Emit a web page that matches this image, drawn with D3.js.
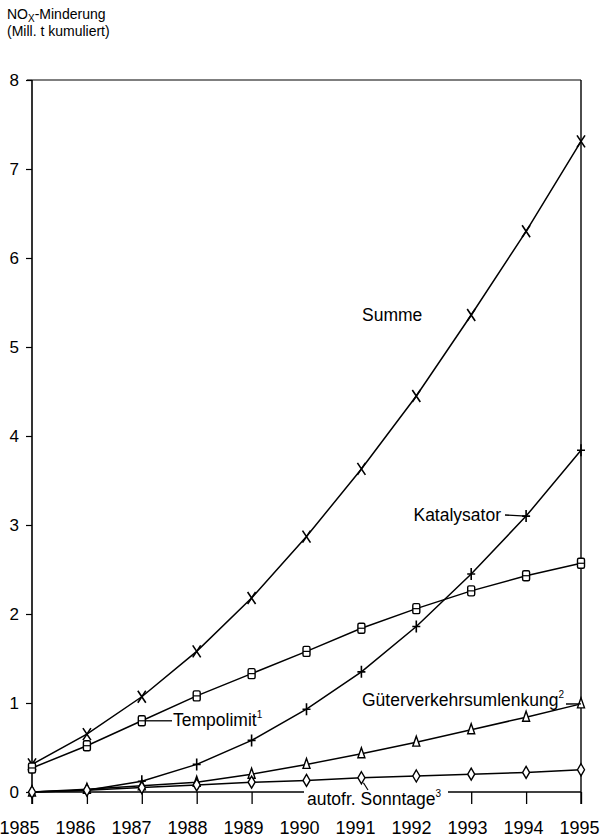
<!DOCTYPE html>
<html><head><meta charset="utf-8">
<script src="https://cdn.jsdelivr.net/npm/d3@7"></script>
<style>
body{margin:0;background:#fff;}
svg{display:block;font-family:"Liberation Sans",Arial,Helvetica,sans-serif;}
</style></head><body>
<svg id="c" width="600" height="840"></svg>
<script>
const years = [1985,1986,1987,1988,1989,1990,1991,1992,1993,1994,1995];
const yTicks = [0,1,2,3,4,5,6,7,8];
const summe = [0.31,0.65,1.07,1.58,2.18,2.87,3.63,4.45,5.36,6.30,7.31];
const katalysator = [0.00,0.02,0.12,0.31,0.58,0.93,1.35,1.86,2.45,3.10,3.84];
const tempolimit = [0.27,0.52,0.80,1.08,1.33,1.58,1.84,2.06,2.26,2.43,2.57];
const gueter = [0.00,0.03,0.07,0.11,0.20,0.31,0.43,0.56,0.70,0.84,0.99];
const sonntage = [0.00,0.02,0.05,0.08,0.11,0.13,0.16,0.18,0.20,0.22,0.25];

const svg = d3.select("#c");
const x = d3.scaleLinear().domain([1985,1995]).range([32,581]);
const xl = d3.scaleLinear().domain([1985,1995]).range([19,579]); // year label centres
const y = d3.scaleLinear().domain([0,8]).range([792,80]);

// frame
const g = svg.append("g").attr("stroke","#000").attr("fill","none");
g.append("line").attr("x1",27).attr("x2",x(1995)).attr("y1",y(8)).attr("y2",y(8)).attr("stroke-width",1.2);
g.append("line").attr("x1",x(1985)).attr("x2",x(1985)).attr("y1",y(8)).attr("y2",y(0)+12).attr("stroke-width",1.6);
g.append("line").attr("x1",x(1995)).attr("x2",x(1995)).attr("y1",y(8)).attr("y2",y(0)+12).attr("stroke-width",1.4);

// y axis
const yAxis = d3.axisLeft(y).tickValues(yTicks).tickSize(6).tickPadding(7).tickFormat(d3.format("d"));
const ya = svg.append("g").attr("transform",`translate(${x(1985)},0)`).call(yAxis);
ya.select(".domain").remove();
ya.selectAll("line").attr("stroke","#000").attr("stroke-width",1.2);
ya.selectAll("text").attr("font-size",17).attr("font-family","inherit").attr("fill","#000");

// x axis at 0
const xAxis = d3.axisBottom(x).tickValues(years).tickSize(12).tickPadding(17).tickFormat(d3.format("d"));
const xa = svg.append("g").attr("transform",`translate(0,${y(0)})`).call(xAxis);
xa.select(".domain").attr("stroke","#000").attr("stroke-width",1.3).attr("d",`M${x(1985)},0H${x(1995)}`);
xa.selectAll("line").attr("stroke","#000").attr("stroke-width",1.3);
xa.selectAll("text").attr("font-size",18).attr("font-family","inherit").attr("fill","#000")
  .attr("x",d=>xl(d)-x(d));

// title
const t = svg.append("text").attr("x",7).attr("y",19).attr("font-size",14).attr("fill","#000");
t.append("tspan").text("NO");
t.append("tspan").attr("font-size",10).attr("dy",2.5).text("X");
t.append("tspan").attr("dy",-2.5).text("-Minderung");
svg.append("text").attr("x",7).attr("y",36).attr("font-size",14).attr("fill","#000").text("(Mill. t kumuliert)");

const line = d3.line().x((d,i)=>x(years[i])).y(d=>y(d));
const series = [summe,katalysator,tempolimit,gueter,sonntage];
series.forEach(s=>{
  svg.append("path").datum(s).attr("d",line).attr("fill","none").attr("stroke","#000").attr("stroke-width",1.5);
});

// markers
function markers(data, draw){
  const mg = svg.append("g");
  data.forEach((v,i)=>draw(mg, x(years[i]), y(v)));
}
markers(summe,(m,cx,cy)=>{
  m.append("path").attr("d",`M${cx-4},${cy-6}L${cx+4},${cy+6}M${cx+4},${cy-6}L${cx-4},${cy+6}`).attr("stroke","#000").attr("stroke-width",1.6);
});
markers(katalysator,(m,cx,cy)=>{
  m.append("path").attr("d",`M${cx-4},${cy}H${cx+4}M${cx},${cy-6}V${cy+6}`).attr("stroke","#000").attr("stroke-width",1.6);
});
markers(tempolimit,(m,cx,cy)=>{
  m.append("rect").attr("x",cx-3.5).attr("y",cy-5).attr("width",7).attr("height",10).attr("rx",1.5).attr("fill","#fff").attr("stroke","#000").attr("stroke-width",1.4);
  m.append("line").attr("x1",cx-3.5).attr("x2",cx+3.5).attr("y1",cy).attr("y2",cy).attr("stroke","#000").attr("stroke-width",1.2);
});
markers(gueter,(m,cx,cy)=>{
  m.append("path").attr("d",`M${cx},${cy-6}L${cx+3.5},${cy+4}H${cx-3.5}Z`).attr("fill","#fff").attr("stroke","#000").attr("stroke-width",1.4);
});
markers(sonntage,(m,cx,cy)=>{
  m.append("path").attr("d",`M${cx},${cy-6}L${cx+3.5},${cy}L${cx},${cy+6}L${cx-3.5},${cy}Z`).attr("fill","#fff").attr("stroke","#000").attr("stroke-width",1.4);
});

// labels
svg.append("rect").attr("x",304).attr("y",789).attr("width",144).attr("height",19).attr("fill","#fff");
const lab = svg.append("g").attr("fill","#000").attr("font-size",17.5);
lab.append("text").attr("x",362).attr("y",321).text("Summe");
lab.append("text").attr("x",501).attr("y",521).attr("text-anchor","end").text("Katalysator");
svg.append("line").attr("x1",505).attr("x2",x(1994)).attr("y1",515).attr("y2",y(katalysator[9])).attr("stroke","#000").attr("stroke-width",1.3);

const tl = lab.append("text").attr("x",173).attr("y",726);
tl.append("tspan").text("Tempolimit");
tl.append("tspan").attr("font-size",10).attr("dy",-8).text("1");
svg.append("line").attr("x1",x(1987)+4).attr("x2",172).attr("y1",y(tempolimit[2])).attr("y2",y(tempolimit[2])).attr("stroke","#000").attr("stroke-width",1.3);

const gl = lab.append("text").attr("x",564).attr("y",706).attr("text-anchor","end");
gl.append("tspan").text("Güterverkehrsumlenkung");
gl.append("tspan").attr("font-size",10).attr("dy",-8).text("2");
svg.append("line").attr("x1",566).attr("x2",x(1995)).attr("y1",704).attr("y2",y(gueter[10])).attr("stroke","#000").attr("stroke-width",1.3);

const al = lab.append("text").attr("x",307).attr("y",805);
al.append("tspan").text("autofr. Sonntage");
al.append("tspan").attr("font-size",10).attr("dy",-8).text("3");
svg.append("line").attr("x1",x(1991)+2).attr("x2",368).attr("y1",y(sonntage[6])+5).attr("y2",790).attr("stroke","#000").attr("stroke-width",1.2);
</script>
</body></html>
